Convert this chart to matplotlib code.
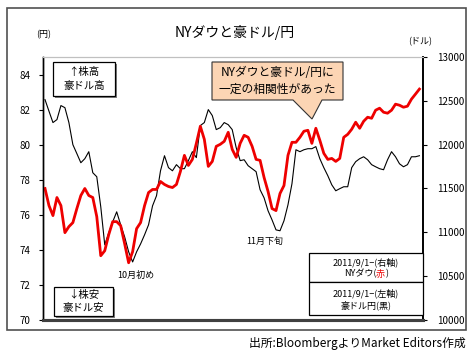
import matplotlib
matplotlib.use("Agg")
import matplotlib.pyplot as plt
from matplotlib.patches import Rectangle, Polygon

plt.rcParams['font.family'] = ['Noto Sans CJK JP', 'DejaVu Sans']

# AUD/JPY (left axis, black) - daily from 2011/9/1
audjpy = [82.57, 81.91, 81.26, 81.43, 82.23, 82.11, 81.26, 80.0, 79.49, 78.97,
          79.2, 79.6, 78.4, 78.17, 76.46, 74.29, 74.97, 75.6, 76.17, 75.43,
          74.74, 73.89, 73.31, 73.89, 74.34, 74.86, 75.43, 76.51, 77.09, 78.51,
          79.37, 78.69, 78.51, 78.86, 78.63, 78.63, 79.09, 79.6, 79.26, 81.09,
          81.26, 82.0, 81.66, 80.86, 80.97, 81.26, 81.14, 80.86, 79.83, 79.09,
          79.14, 78.8, 78.63, 78.46, 77.43, 76.97, 76.23, 75.71, 75.14, 75.09,
          75.66, 76.57, 77.77, 79.71, 79.6, 79.71, 79.77, 79.77, 79.89, 79.2,
          78.69, 78.23, 77.71, 77.37, 77.49, 77.6, 77.6, 78.69, 79.03, 79.2,
          79.31, 79.14, 78.86, 78.74, 78.63, 78.57, 79.14, 79.6, 79.31, 78.91,
          78.74, 78.86, 79.31, 79.31, 79.37]

# NY Dow (right axis, red)
nydow = [11500, 11305, 11191, 11397, 11305, 10996, 11065, 11111, 11271, 11420,
         11500, 11420, 11397, 11179, 10733, 10790, 10973, 11122, 11122, 11076,
         10870, 10653, 10779, 11042, 11111, 11305, 11454, 11489, 11489, 11580,
         11546, 11523, 11511, 11546, 11695, 11878, 11763, 11832, 12015, 12210,
         12061, 11752, 11809, 11981, 12004, 12038, 12141, 11947, 11855, 12015,
         12107, 12084, 11981, 11832, 11821, 11626, 11466, 11271, 11248, 11443,
         11534, 11878, 12027, 12027, 12084, 12153, 12164, 12015, 12187, 12050,
         11901, 11832, 11843, 11809, 11843, 12084, 12118, 12176, 12256, 12187,
         12267, 12313, 12301, 12393, 12416, 12370, 12359, 12393, 12462, 12450,
         12427, 12439, 12519, 12576, 12634]

left_ticks = [70, 72, 74, 76, 78, 80, 82, 84]
right_ticks = [10000, 10500, 11000, 11500, 12000, 12500, 13000]

W, H = 472, 358
fig = plt.figure(figsize=(W / 100, H / 100), dpi=100)


def fx(x):
    return x / W


def fy(y):
    return 1 - y / H


def P(x, y):
    return (fx(x), fy(y))


L, R, T, B = 43, 423, 57, 320
ax = fig.add_axes([fx(L), fy(B), (R - L) / W, (B - T) / H])
ax2 = ax.twinx()

xs = list(range(len(audjpy)))
ax.plot(xs, audjpy, color='black', lw=0.8)
ax2.plot(xs, nydow, color='#ee0000', lw=2.0)

ax.set_xlim(-0.5, len(xs) - 0.1)
ax.set_ylim(70, 85)
ax2.set_ylim(10000, 13000)
ax.set_yticks(left_ticks)
ax2.set_yticks(right_ticks)
ax.set_xticks([])
ax.tick_params(axis='y', direction='out', length=3, width=0.8, labelsize=7, pad=6)
ax2.tick_params(axis='y', direction='out', length=3, width=0.8, labelsize=7, pad=7)

for a in (ax, ax2):
    a.spines['top'].set_color('#c0c0c0')
    a.spines['top'].set_linewidth(0.8)
    a.spines['bottom'].set_color('#404040')
    a.spines['bottom'].set_linewidth(2.2)
    a.spines['left'].set_color('black')
    a.spines['left'].set_linewidth(1.0)
    a.spines['right'].set_color('black')
    a.spines['right'].set_linewidth(1.2)

# outer frame
fig.add_artist(Rectangle(P(7, 330), fx(466) - fx(7), fy(8) - fy(330),
                         transform=fig.transFigure, fill=False,
                         edgecolor='#505050', lw=1.2))

fig.text(fx(235), fy(32), 'NYダウと豪ドル/円', ha='center', va='center', fontsize=10)
fig.text(fx(44), fy(35), '(円)', ha='center', va='center', fontsize=6.5)
fig.text(fx(420), fy(42), '(ドル)', ha='center', va='center', fontsize=6.5)


def box(x0, y0, x1, y1, face='white', shadow=True, z=5):
    if shadow:
        fig.add_artist(Rectangle(P(x0 + 2, y1 + 2), fx(x1) - fx(x0), fy(y0) - fy(y1),
                                 transform=fig.transFigure, facecolor='#808080',
                                 edgecolor='none', zorder=z - 0.5))
    fig.add_artist(Rectangle(P(x0, y1), fx(x1) - fx(x0), fy(y0) - fy(y1),
                             transform=fig.transFigure, facecolor=face,
                             edgecolor='black', lw=0.9, zorder=z))


box(53, 62, 115, 96)
fig.text(fx(84), fy(79), '↑株高\n豪ドル高', ha='center', va='center', fontsize=7.5,
         linespacing=1.4, zorder=6)
box(54, 287, 113, 316)
fig.text(fx(83.5), fy(301.5), '↓株安\n豪ドル安', ha='center', va='center', fontsize=7.5,
         linespacing=1.4, zorder=6)

# callout
pts = [P(212, 62), P(343, 62), P(343, 100), P(322, 100), P(312, 119), P(293, 100), P(212, 100)]
fig.add_artist(Polygon(pts, closed=True, transform=fig.transFigure,
                       facecolor='#fcd5b4', edgecolor='#333333', lw=0.8, zorder=5))
fig.text(fx(277.5), fy(81), 'NYダウと豪ドル/円に\n一定の相関性があった', ha='center',
         va='center', fontsize=8.5, linespacing=1.3, zorder=6)

# legend boxes
box(309, 253, 423, 282, shadow=False)
box(309, 282, 423, 315, shadow=False)
fig.text(fx(366), fy(262), '2011/9/1−(右軸)', ha='center', va='center', fontsize=6.5, zorder=6)
fig.text(fx(366), fy(293), '2011/9/1−(左軸)', ha='center', va='center', fontsize=6.5, zorder=6)
fig.text(fx(366), fy(305), '豪ドル円(黒)', ha='center', va='center', fontsize=6.5, zorder=6)

# "NYダウ(赤)" with red 赤, pieces laid out by measured widths
parts = [('NYダウ(', 'black'), ('赤', '#ee0000'), (')', 'black')]
renderer = fig.canvas.get_renderer()
tmp = [fig.text(0, 0, s, fontsize=6.5) for s, _ in parts]
widths = [t.get_window_extent(renderer=renderer).width for t in tmp]
for t in tmp:
    t.remove()
xcur = 366 - sum(widths) / 2
for (s, c), w in zip(parts, widths):
    fig.text(fx(xcur), fy(274), s, ha='left', va='center', fontsize=6.5, color=c, zorder=6)
    xcur += w

fig.text(fx(136), fy(275), '10月初め', ha='center', va='center', fontsize=6.5)
fig.text(fx(265), fy(241), '11月下旬', ha='center', va='center', fontsize=6.5)

fig.text(fx(466), fy(343), '出所:BloombergよりMarket Editors作成', ha='right',
         va='center', fontsize=8.5)

fig.savefig('out.png', dpi=100)
